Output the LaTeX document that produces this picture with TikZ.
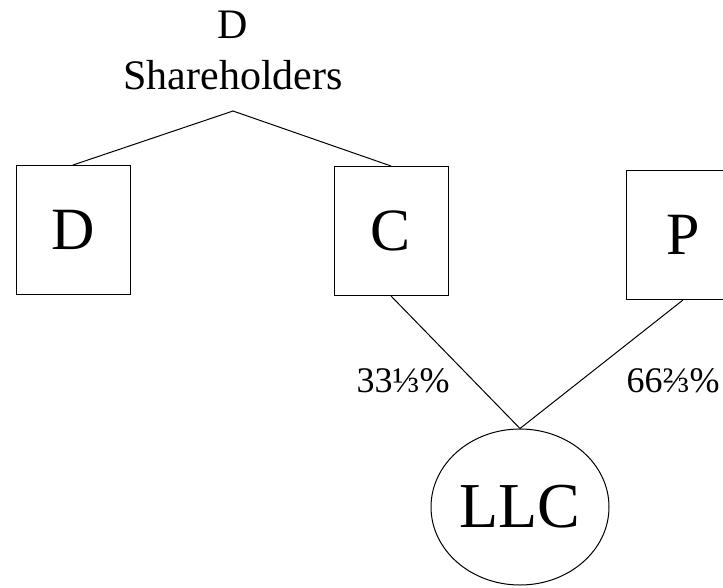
\documentclass[tikz,border=0pt]{standalone}
\usepackage{fontspec}
\setmainfont{Liberation Serif}
\usepackage{tikz}
\usetikzlibrary{shapes.geometric, positioning, calc}
\tikzset{
  firma/.style={rectangle, draw=black, line width=1pt, inner sep=0pt, minimum width=114pt, minimum height=129pt, font=\fontsize{60}{60}\selectfont},
  socio/.style={ellipse, draw=black, line width=1pt, inner sep=0pt, minimum width=178pt, minimum height=156pt, font=\fontsize{64}{64}\selectfont},
  cuota/.style={font=\fontsize{36}{36}\selectfont},
  enlace/.style={line width=1pt, color=black}
}
\begin{document}
\begin{tikzpicture}[x=1pt, y=-1pt]
  \useasboundingbox (0,0) rectangle (723,587);
  \node (share) at (233,50) [align=center, font=\fontsize{42}{51}\selectfont] {D\\ Shareholders};
  \coordinate (apex) at (233,111);
  \node (d) at (73,230) [firma] {D};
  \node (c) at (391,231) [firma] {C};
  \node (p) at (683,235) [firma] {P};
  \node (llc) at (520,507) [socio] {LLC};
  \node (pc) at (403,381) [cuota] {33⅓\%};
  \node (pp) at (673,381) [cuota] {66⅔\%};
  \draw [enlace] (d.north) -- (apex) -- (c.north);
  \draw [enlace] (c.south) -- (llc.north);
  \draw [enlace] (p.south) -- (llc.north);
\end{tikzpicture}
\end{document}
